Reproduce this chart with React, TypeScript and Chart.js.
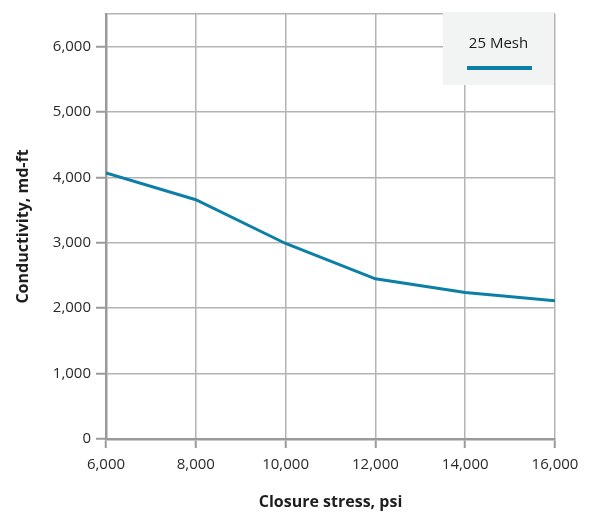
import React, { useEffect, useRef } from "react";
import { Chart, registerables } from "chart.js";

Chart.register(...registerables);

const stressPsi = [6000, 8000, 10000, 12000, 14000, 16000];
const conductivity25Mesh = [4070, 3660, 2990, 2450, 2240, 2115];
const yTickValues = [0, 1000, 2000, 3000, 4000, 5000, 6000, 6500];
const seriesLabel = "25 Mesh";
const xTitle = "Closure stress, psi";
const yTitle = "Conductivity, md-ft";

const LINE_COLOR = "#0b7fa6";
const GRID_COLOR = "#b4b4b4";
const AXIS_COLOR = "#9a9a9a";
const FONT = "'Open Sans', 'Noto Sans', sans-serif";

const legendBoxPlugin = {
  id: "legendBox",
  afterDatasetsDraw(chart: any) {
    const { ctx, chartArea } = chart;
    const ds = chart.data.datasets[0];
    const w = 111;
    const h = 73;
    const x = chartArea.right - w - 1;
    const y = chartArea.top - 2;
    ctx.save();
    ctx.fillStyle = "#f2f4f4";
    ctx.fillRect(x, y, w, h);
    ctx.fillStyle = "#1a1a1a";
    ctx.font = `15px ${FONT}`;
    ctx.textAlign = "center";
    ctx.textBaseline = "middle";
    ctx.fillText(ds.label, x + w / 2, y + 32);
    ctx.strokeStyle = ds.borderColor;
    ctx.lineWidth = 4;
    ctx.beginPath();
    ctx.moveTo(x + 24, y + 56);
    ctx.lineTo(x + 89, y + 56);
    ctx.stroke();
    ctx.restore();
  },
};

export default function App() {
  const canvasRef = useRef<HTMLCanvasElement | null>(null);

  useEffect(() => {
    document.body.style.margin = "0";
    const canvas = canvasRef.current;
    if (!canvas) return;
    const chart = new Chart(canvas, {
      type: "line",
      data: {
        datasets: [
          {
            label: seriesLabel,
            data: stressPsi.map((x, i) => ({ x, y: conductivity25Mesh[i] })),
            borderColor: LINE_COLOR,
            backgroundColor: LINE_COLOR,
            borderWidth: 3,
            pointRadius: 0,
            tension: 0,
          },
        ],
      },
      options: {
        animation: false,
        responsive: false,
        maintainAspectRatio: false,
        layout: { padding: { top: 11, right: 40, left: 14, bottom: 0 } },
        plugins: {
          legend: { display: false },
          tooltip: { enabled: false },
        },
        scales: {
          x: {
            type: "linear",
            min: 6000,
            max: 16000,
            ticks: {
              stepSize: 2000,
              color: "#2a2a2a",
              font: { family: FONT, size: 15 },
              padding: 8,
              maxRotation: 0,
              callback: (v: any) => Number(v).toLocaleString("en-US"),
            },
            grid: {
              color: GRID_COLOR,
              lineWidth: 1.5,
              tickLength: 9,
              tickColor: AXIS_COLOR,
              tickWidth: 2,
            },
            border: { color: AXIS_COLOR, width: 2.5 },
            title: {
              display: true,
              text: xTitle,
              color: "#1e1e1e",
              font: { family: FONT, size: 16, weight: "bold" },
              padding: { top: 16, bottom: 0 },
            },
            afterFit: (scale: any) => {
              scale.height = 73;
            },
          },
          y: {
            min: 0,
            max: 6500,
            afterBuildTicks: (scale: any) => {
              scale.ticks = yTickValues.map((value) => ({ value }));
            },
            ticks: {
              color: "#2a2a2a",
              font: { family: FONT, size: 15 },
              padding: 5,
              callback: (v: any) =>
                Number(v) % 1000 === 0 ? Number(v).toLocaleString("en-US") : "",
            },
            grid: {
              color: GRID_COLOR,
              lineWidth: 1.5,
              tickLength: 10,
              tickColor: (c: any) =>
                c.tick && c.tick.value % 1000 === 0 ? AXIS_COLOR : "rgba(0,0,0,0)",
              tickWidth: 2,
            },
            border: { color: AXIS_COLOR, width: 2.5 },
            title: {
              display: true,
              text: yTitle,
              color: "#1e1e1e",
              font: { family: FONT, size: 16, weight: "bold" },
              padding: { top: 0, bottom: 8 },
            },
            afterFit: (scale: any) => {
              scale.width = 92;
            },
          },
        },
      },
      plugins: [legendBoxPlugin],
    } as any);
    return () => chart.destroy();
  }, []);

  return (
    <div style={{ width: 595, height: 512 }}>
      <canvas ref={canvasRef} width={595} height={512} style={{ width: 595, height: 512 }} />
    </div>
  );
}
